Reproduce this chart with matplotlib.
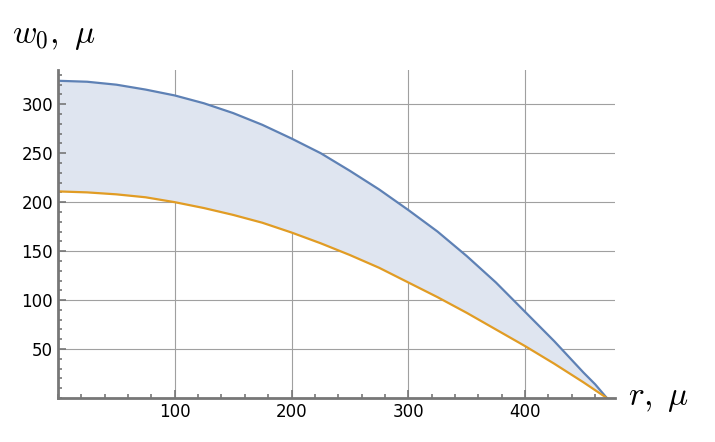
import matplotlib
matplotlib.use("Agg")
import matplotlib.pyplot as plt
from matplotlib.ticker import MultipleLocator

r = [0, 25, 50, 75, 100, 125, 150, 175, 200, 225, 250, 275, 300, 325, 350, 375, 400, 425, 450, 460, 470]
w_upper = [324, 323, 320, 315, 309, 301, 291, 279, 265, 250, 232, 213, 192, 170, 145, 118, 88, 58, 26, 14, 0]
w_lower = [211, 210, 208, 205, 200, 194, 187, 179, 169, 158, 146, 133, 118, 103, 87, 70, 53, 35, 16, 8, 0]
xticks = [100, 200, 300, 400]
yticks = [50, 100, 150, 200, 250, 300]

plt.rcParams["mathtext.fontset"] = "cm"
fig = plt.figure(figsize=(7.15, 4.42), dpi=100)
ax = fig.add_axes([58/715, 44/442, (615-58)/715, (398-70)/442])
ax.set_xlim(0, 477)
ax.set_ylim(0, 335)
ax.fill_between(r, w_lower, w_upper, color="#dfe5f0", lw=0)
ax.plot(r, w_upper, color="#5e81b5", lw=1.6)
ax.plot(r, w_lower, color="#e19c24", lw=1.6)
for x in xticks:
    ax.axvline(x, color="#a0a0a0", lw=0.8, zorder=0)
for y in yticks:
    ax.axhline(y, color="#a0a0a0", lw=0.8, zorder=0)
ax.set_xticks(xticks)
ax.set_yticks(yticks)
ax.xaxis.set_minor_locator(MultipleLocator(20))
ax.yaxis.set_minor_locator(MultipleLocator(10))
for s in ["top", "right"]:
    ax.spines[s].set_visible(False)
for s in ["left", "bottom"]:
    ax.spines[s].set_color("#777777")
    ax.spines[s].set_linewidth(2)
ax.tick_params(which="both", direction="in", color="#777777", labelsize=12, width=1.2)
ax.tick_params(which="major", length=6)
ax.tick_params(which="minor", length=3)
fig.text(12/715, 1-35/442, r"$w_0,\ \mu$", fontsize=24, va="center")
fig.text(628/715, 1-398/442, r"$r,\ \mu$", fontsize=24, va="center")
fig.savefig("out.png", dpi=100)
